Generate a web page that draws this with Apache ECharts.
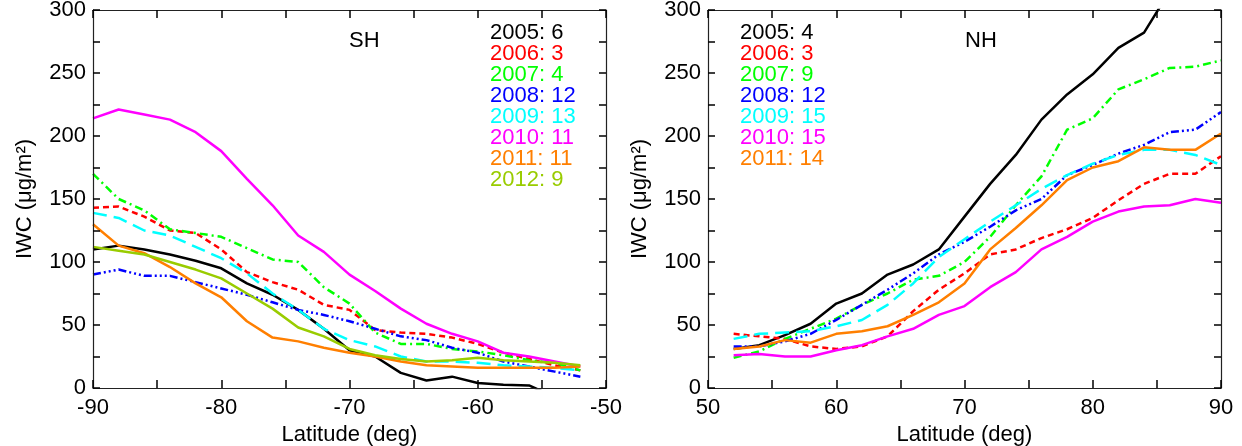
<!DOCTYPE html>
<html>
<head>
<meta charset="utf-8">
<script src="https://cdn.jsdelivr.net/npm/echarts@6/dist/echarts.min.js"></script>
<style>
  html, body { margin: 0; padding: 0; background: #fff; }
  #chart { width: 1242px; height: 446px; }
</style>
</head>
<body>
<div id="chart"></div>
<script>
// 纬度格点
var latSH = [-90, -88, -86, -84, -82, -80, -78, -76, -74, -72, -70, -68, -66, -64, -62, -60, -58, -56, -54, -52];
var latNH = [52, 54, 56, 58, 60, 62, 64, 66, 68, 70, 72, 74, 76, 78, 80, 82, 84, 86, 88, 90];

var years = ['2005', '2006', '2007', '2008', '2009', '2010', '2011', '2012'];
var countsSH = [6, 3, 4, 12, 13, 11, 11, 9];
var countsNH = [4, 3, 9, 12, 15, 15, 14];

// 南半球 IWC
var sh2005 = [110, 113, 110, 106, 101, 95, 83, 74, 62, 47, 30, 25, 12, 6, 9, 4, 2.5, 2, -7, -10];
var sh2006 = [143, 144, 136, 125, 123, 110, 92, 84, 78, 66, 62, 46, 44, 43, 40, 35, 28, 23, 18, 14];
var sh2007 = [170, 150, 141, 126, 123, 120, 111, 102, 100, 80, 67, 44, 35, 35, 31, 29, 26, 22, 20, 14];
var sh2008 = [90, 94, 89, 89, 84, 79, 74, 68, 62, 58, 53, 47, 41, 38, 32, 28, 21, 17, 13, 9];
var sh2009 = [139, 135, 125, 121, 112, 103, 91, 75, 62, 47, 38, 33, 25, 21, 21, 20, 18, 17, 16, 14];
var sh2010 = [214, 221, 217, 213, 203, 188, 166, 145, 121, 108, 90, 77, 63, 51, 43, 37, 28, 25, 21, 17];
var sh2011 = [130, 113, 107, 96, 83, 72, 53, 40, 37, 32, 28, 25, 21, 18, 17, 16, 16, 16, 16, 17];
var sh2012 = [112, 109, 106, 100, 94, 87, 75, 63, 48, 41, 31, 26, 23, 21, 22, 24, 22, 21, 20, 18];

// 北半球 IWC
var nh2005 = [31, 34, 42, 51, 67, 75, 90, 98, 110, 136, 162, 185, 213, 233, 249, 270, 282, 315, 335, 355];
var nh2006 = [43, 41, 39, 33, 31, 33, 41, 61, 78, 91, 106, 110, 119, 126, 135, 149, 162, 170, 170, 184];
var nh2007 = [24, 29, 39, 47, 55, 66, 75, 86, 89, 100, 120, 145, 168, 205, 214, 237, 245, 254, 255, 260];
var nh2008 = [33, 33, 37, 43, 54, 66, 78, 91, 106, 116, 128, 141, 150, 169, 177, 186, 193, 203, 205, 219];
var nh2009 = [39, 43, 44, 45, 49, 54, 66, 83, 104, 118, 132, 145, 158, 169, 178, 185, 189, 189, 185, 177];
var nh2010 = [26, 27, 25, 25, 30, 34, 41, 47, 58, 65, 80, 92, 110, 120, 132, 140, 144, 145, 150, 147];
var nh2011 = [31, 33, 38, 36, 43, 45, 49, 58, 68, 83, 110, 127, 145, 165, 175, 180, 191, 189, 189, 202];

var colors = ['#000000', '#ff0000', '#00ff00', '#0000ff', '#00ffff', '#ff00ff', '#ff7f00', '#99cc00'];
var dashes = ['solid', [6, 4], [8, 4, 2, 4], [8, 3, 2, 3, 2, 3, 2, 3], [14, 7], 'solid', 'solid', 'solid'];

var shData = [sh2005, sh2006, sh2007, sh2008, sh2009, sh2010, sh2011, sh2012];
var nhData = [nh2005, nh2006, nh2007, nh2008, nh2009, nh2010, nh2011];

var FONT = 'Liberation Sans';
var FS = 22;
var TICK = '#000';
var chart = echarts.init(document.getElementById('chart'));

function pairs(lat, vals) {
    return lat.map(function (x, i) { return [x, vals[i]]; });
}

function xAx(gi, min, max, bottom) {
    return {
        type: 'value', gridIndex: gi, min: min, max: max, interval: 10, z: 10,
        position: bottom ? 'bottom' : 'top',
        name: bottom ? 'Latitude (deg)' : '', nameLocation: 'middle', nameGap: 34,
        nameTextStyle: { fontFamily: FONT, fontSize: FS, color: '#000' },
        axisLine: { show: true, onZero: false, lineStyle: { color: '#222', width: 1.2 } },
        axisTick: { show: true, inside: true, length: 8, lineStyle: { color: TICK, width: 1.5 } },
        minorTick: { show: true, splitNumber: 2, length: 8, lineStyle: { color: TICK, width: 1.5 } },
        axisLabel: { show: bottom, margin: 9, fontFamily: FONT, fontSize: FS, color: '#000' },
        splitLine: { show: false }
    };
}

function yAx(gi, left) {
    return {
        type: 'value', gridIndex: gi, min: 0, max: 300, interval: 50, z: 10,
        position: left ? 'left' : 'right',
        name: left ? 'IWC (μg/m²)' : '', nameLocation: 'middle', nameGap: 57,
        nameTextStyle: { fontFamily: FONT, fontSize: FS, color: '#000' },
        axisLine: { show: true, onZero: false, lineStyle: { color: '#222', width: 1.2 } },
        axisTick: { show: true, inside: true, length: 7, lineStyle: { color: TICK, width: 1.5 } },
        minorTick: { show: true, splitNumber: 2, length: 7, lineStyle: { color: TICK, width: 1.5 } },
        axisLabel: { show: left, margin: 7, fontFamily: FONT, fontSize: FS, color: '#000' },
        splitLine: { show: false }
    };
}

var series = [];
shData.forEach(function (d, i) {
    series.push({
        type: 'line', xAxisIndex: 0, yAxisIndex: 0, data: pairs(latSH, d),
        showSymbol: false,
        lineStyle: { color: colors[i], width: 2.5, type: dashes[i] }
    });
});
nhData.forEach(function (d, i) {
    series.push({
        type: 'line', xAxisIndex: 2, yAxisIndex: 2, data: pairs(latNH, d),
        showSymbol: false,
        lineStyle: { color: colors[i], width: 2.5, type: dashes[i] }
    });
});

// 图例文字 (用 title 组件)
function label(text, x, y, color) {
    return {
        text: text, left: x, top: y, padding: 0,
        textStyle: { fontFamily: FONT, fontSize: FS, fontWeight: 'normal', color: color }
    };
}
var titles = [];
countsSH.forEach(function (n, i) { titles.push(label(years[i] + ': ' + n, 490, 22 + i * 21, colors[i])); });
countsNH.forEach(function (n, i) { titles.push(label(years[i] + ': ' + n, 740, 22 + i * 21, colors[i])); });
titles.push(label('SH', 349, 30, '#000'));
titles.push(label('NH', 965, 30, '#000'));

chart.setOption({
    animation: false,
    title: titles,
    grid: [
        { left: 93, top: 10, width: 513, height: 378, outerBoundsMode: 'none' },
        { left: 708, top: 10, width: 513, height: 378, outerBoundsMode: 'none' }
    ],
    xAxis: [
        xAx(0, -90, -50, true), xAx(0, -90, -50, false),
        xAx(1, 50, 90, true), xAx(1, 50, 90, false)
    ],
    yAxis: [
        yAx(0, true), yAx(0, false),
        yAx(1, true), yAx(1, false)
    ],
    series: series
});
</script>
</body>
</html>
